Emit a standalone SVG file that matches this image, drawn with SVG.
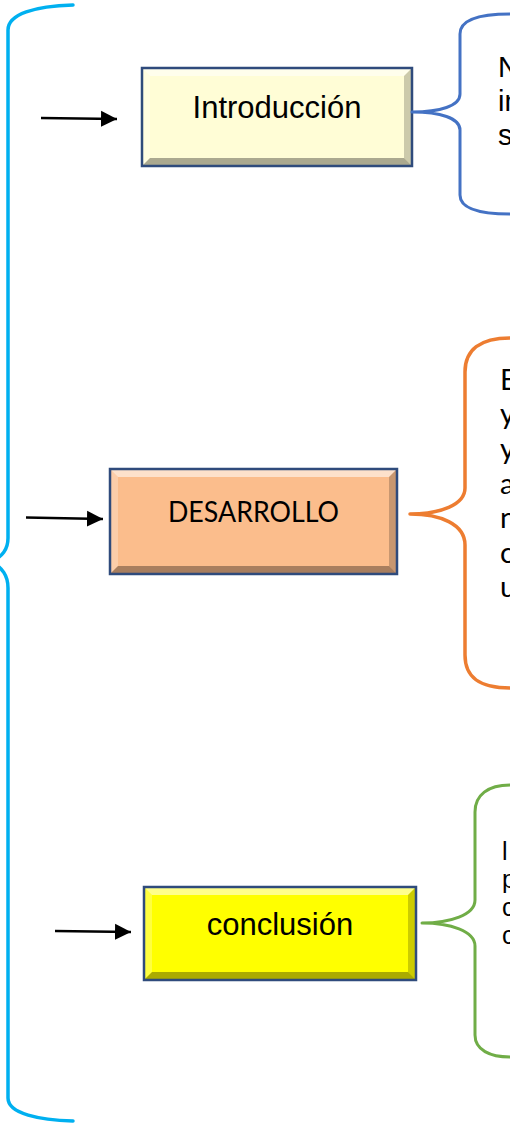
<svg xmlns="http://www.w3.org/2000/svg" width="510" height="1126" viewBox="0 0 510 1126">
<defs>
<style>
.hl{fill:#ffffff;opacity:.55}
.hs{fill:#ffffff;opacity:.25}
.sh{fill:#000000;opacity:.33}
.ss{fill:#000000;opacity:.2}
.bord{fill:none;stroke:#2f4b7c;stroke-width:2.5}
.arr{stroke:#000;stroke-width:2.5;fill:none;marker-end:url(#ah)}
.brace{fill:none;stroke-linecap:round;stroke-linejoin:round}
.ar{font-family:"Liberation Sans",Arial,sans-serif;fill:#000}
.cal{font-family:Lato,"Open Sans",sans-serif;fill:#000}
</style>
<marker id="ah" markerUnits="userSpaceOnUse" markerWidth="18" markerHeight="18" viewBox="0 0 18 18" refX="16" refY="9" orient="auto">
<path d="M0,1 L16,9 L0,17 Z" fill="#000"/>
</marker>
</defs>
<rect width="510" height="1126" fill="#ffffff"/>

<g id="left-brace">
<path class="brace" d="M73,5 C35,6 8,14 8,30 L8,538 C8,550 2,556 -8,562 C2,568 8,575 8,588 L8,1098 C8,1114 40,1120 73,1121" stroke="#00b0f0" stroke-width="3.5"/>
</g>

<g id="connectors">
<line class="arr" x1="41" y1="118" x2="117" y2="119"/>
<line class="arr" x1="26" y1="517.5" x2="103" y2="519"/>
<line class="arr" x1="55" y1="931" x2="131" y2="932"/>
</g>

<g id="introduccion">
<rect x="142" y="68" width="270" height="98" fill="#fffdd6"/>
<polygon class="hl" points="142,68 412,68 404,76 150,76"/>
<polygon class="hs" points="142,68 150,76 150,158 142,166"/>
<polygon class="sh" points="142,166 412,166 404,158 150,158"/>
<polygon class="ss" points="412,68 404,76 404,158 412,166"/>
<rect class="bord" x="142" y="68" width="270" height="98"/>
<text class="ar" x="277" y="118" font-size="31" text-anchor="middle">Introducción</text>
</g>

<g id="intro-brace">
<path class="brace" d="M510,14 C478,14 460,20 460,34 L460,94 C460,106 440,112 412,112 C440,112 460,118 460,130 L460,195 C460,208 478,214 510,214" stroke="#4472c4" stroke-width="3"/>
<text class="ar" font-size="29" x="498" y="77">N</text>
<text class="ar" font-size="29" x="498" y="111">in</text>
<text class="ar" font-size="29" x="498" y="145">s</text>
</g>

<g id="desarrollo">
<rect x="110" y="469" width="287" height="105" fill="#fbbd8c"/>
<polygon class="hl" points="110,469 397,469 389,477 118,477"/>
<polygon class="hs" points="110,469 118,477 118,566 110,574"/>
<polygon class="sh" points="110,574 397,574 389,566 118,566"/>
<polygon class="ss" points="397,469 389,477 389,566 397,574"/>
<rect class="bord" x="110" y="469" width="287" height="105"/>
<text class="cal" x="253.5" y="522" font-size="29" text-anchor="middle" textLength="171" lengthAdjust="spacingAndGlyphs">DESARROLLO</text>
</g>

<g id="desarrollo-brace">
<path class="brace" d="M510,338 C480,338 465,350 465,372 L465,488 C465,505 440,514 410,514 C440,514 465,524 465,545 L465,655 C465,678 480,688 510,688" stroke="#ed7d31" stroke-width="3.5"/>
<text class="cal" font-size="29" x="500" y="390">E</text>
<text class="cal" font-size="29" x="500" y="424">y</text>
<text class="cal" font-size="29" x="500" y="459">y</text>
<text class="cal" font-size="29" x="500" y="494">a</text>
<text class="cal" font-size="29" x="500" y="528">n</text>
<text class="cal" font-size="29" x="500" y="563">c</text>
<text class="cal" font-size="29" x="500" y="597">u</text>
</g>

<g id="conclusion">
<rect x="144" y="887" width="272" height="93" fill="#ffff00"/>
<polygon class="hl" points="144,887 416,887 408,895 152,895"/>
<polygon class="hs" points="144,887 152,895 152,972 144,980"/>
<polygon class="sh" points="144,980 416,980 408,972 152,972"/>
<polygon class="ss" points="416,887 408,895 408,972 416,980"/>
<rect class="bord" x="144" y="887" width="272" height="93"/>
<text class="ar" x="280" y="935" font-size="31" text-anchor="middle">conclusión</text>
</g>

<g id="conclusion-brace">
<path class="brace" d="M510,785 C488,785 475,795 475,812 L475,900 C475,915 450,923 422,923 C450,923 475,931 475,946 L475,1035 C475,1050 490,1057 510,1057" stroke="#70ad47" stroke-width="3"/>
<text class="ar" font-size="25" x="502" y="860">l</text>
<text class="ar" font-size="25" x="502" y="888">p</text>
<text class="ar" font-size="25" x="502" y="916">c</text>
<text class="ar" font-size="25" x="502" y="944">c</text>
</g>
</svg>
